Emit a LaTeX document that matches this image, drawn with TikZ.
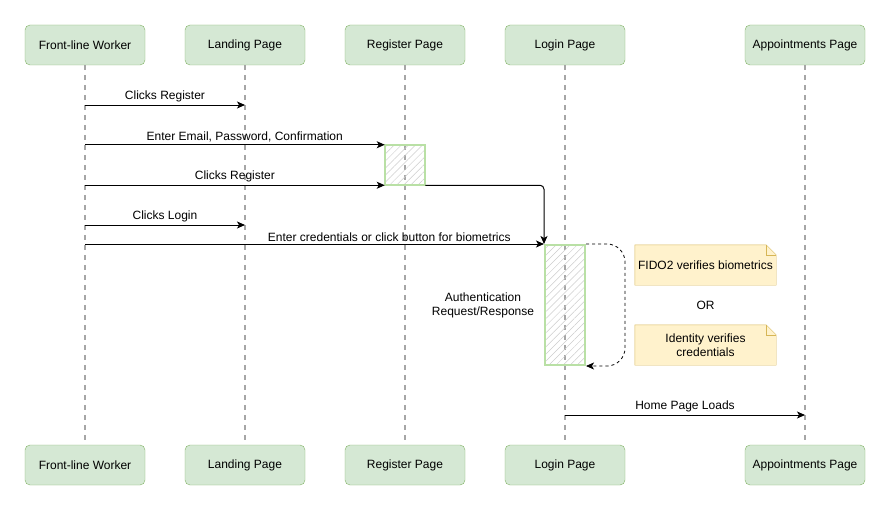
\documentclass[tikz,border=0pt]{standalone}
\usepackage{fontspec}
\setmainfont{Liberation Sans}
\usepackage{xcolor}
\usetikzlibrary{arrows.meta, patterns.meta}
\definecolor{lifefill}{HTML}{D5E8D4}
\definecolor{lifedraw}{HTML}{82B366}
\definecolor{lifegrey}{HTML}{A6A6A6}
\definecolor{actgreen}{HTML}{B9E0A5}
\definecolor{hatchgrey}{HTML}{CCCCCC}
\definecolor{notefill}{HTML}{FFF2CC}
\definecolor{notedraw}{HTML}{D6B656}

\begin{document}
\begin{tikzpicture}[>= {Stealth[length=8pt, width=7pt, inset=2pt]}, x=1pt, y=-1pt,
                    node distance=160pt, font=\fontsize{12}{14}\selectfont]
\tikzstyle{actor}=[shape=rectangle, rounded corners=5pt, draw=lifedraw,
                    fill=lifefill, minimum width=120pt, minimum height=40pt, inner sep=0pt]
\tikzstyle{lifeline}=[draw=lifegrey, line width=2pt, dash pattern=on 5pt off 5pt]
\tikzstyle{msg}=[->, line width=1pt]
\tikzstyle{selfmsg}=[->, line width=0.8pt, dash pattern=on 3pt off 3pt]
\tikzstyle{activation}=[shape=rectangle, draw=actgreen, line width=2pt, minimum width=40pt,
                    inner sep=0pt, pattern={Lines[angle=45, distance=5pt, line width=0.5pt]},
                    pattern color=hatchgrey]
\tikzstyle{note}=[shape=rectangle, fill=notefill, minimum width=141pt, minimum height=40pt,
                    inner sep=0pt, align=center]
  \useasboundingbox (0,0) rectangle (891,511);
  \node[actor] (worker) at (85,45) {Front-line Worker};
  \node[actor] (landing)  [right of=worker]   {Landing Page};
  \node[actor] (register) [right of=landing]  {Register Page};
  \node[actor] (login)    [right of=register] {Login Page};
  \node[actor] (appts)    [right of=login, node distance=240pt] {Appointments Page};
  \node[actor] (workerB)   [below of=worker, node distance=420pt]   {Front-line Worker};
  \node[actor] (landingB)  [below of=landing, node distance=420pt]  {Landing Page};
  \node[actor] (registerB) [below of=register, node distance=420pt] {Register Page};
  \node[actor] (loginB)    [below of=login, node distance=420pt]    {Login Page};
  \node[actor] (apptsB)    [below of=appts, node distance=420pt]    {Appointments Page};
  \foreach \top/\bot in {worker/workerB, landing/landingB, register/registerB,
                         login/loginB, appts/apptsB}
    \draw[lifeline] (\top) -- (\bot);
  \node[activation, minimum height=40pt]  (regact)   at (405,165) {};
  \node[activation, minimum height=120pt] (loginact) at (565,305) {};
  \draw[msg] (worker |- 0,105) -- node[above=-1pt] {Clicks Register} (landing |- 0,105);
  \draw[msg] (worker |- regact.north) -- node[above=-1pt, pos=0.533] {Enter Email, Password, Confirmation} (regact.north west);
  \draw[msg] (worker |- regact.south) -- node[above=-1pt] {Clicks Register} (regact.south west);
  \draw[msg, rounded corners=4pt] (regact.south east) -| (loginact.north west);
  \draw[msg] (worker |- 0,225) -- node[above=-1pt] {Clicks Login} (landing |- 0,225);
  \draw[msg] (worker |- loginact.north) -- node[above=-1pt, pos=0.663] {Enter credentials or click button for biometrics} (loginact.north west);
  \coordinate (selfturn) at (625,305);
  \draw[selfmsg, rounded corners=18pt] (loginact.north east) -| (selfturn) |- (loginact.south east);
  \node[align=center] (authlabel) at (483,305) {Authentication\\Request/Response};
  \node[note] (fido) at (705.5,265) {FIDO2 verifies biometrics};
  \node (or) at (705.5,305) {OR};
  \node[note] (identity) at (705.5,345) {Identity verifies\\credentials};
  \foreach \n in {fido, identity} {
    \fill[white] ([xshift=-10pt]\n.north east) -- (\n.north east) -- ([yshift=-10pt]\n.north east) -- cycle;
    \draw[notedraw] (\n.north west) -- ([xshift=-10pt]\n.north east) -- ([yshift=-10pt]\n.north east)
      -- (\n.south east) -- (\n.south west) -- cycle;
    \draw[notedraw] ([xshift=-10pt]\n.north east) -- ([xshift=-10pt, yshift=-10pt]\n.north east)
      -- ([yshift=-10pt]\n.north east);
  }
  \draw[msg] (login |- 0,415) -- node[above=-1pt] {Home Page Loads} (appts |- 0,415);
\end{tikzpicture}
\end{document}
